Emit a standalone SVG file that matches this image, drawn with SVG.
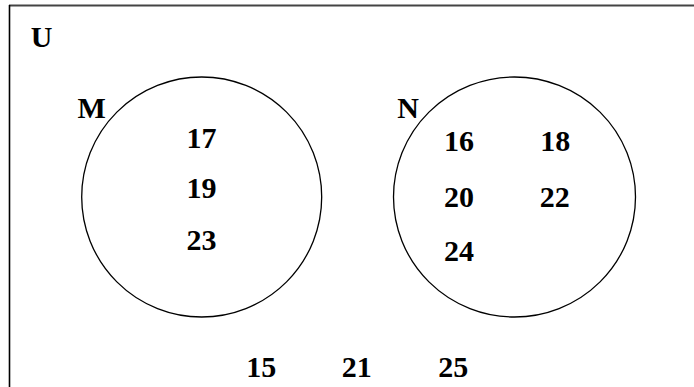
<svg xmlns="http://www.w3.org/2000/svg" width="694" height="387" viewBox="0 0 694 387">
<style>
.t{font-family:"Liberation Serif","Times New Roman",serif;font-weight:bold;font-size:30px;fill:#000;text-anchor:middle}
.c{fill:none;stroke:#000;stroke-width:1.3}
</style>
<rect width="694" height="387" fill="#fff"/>
<g id="frame">
<line x1="9" y1="5.5" x2="694" y2="5.5" stroke="#444" stroke-width="2"/>
<line x1="9.5" y1="5" x2="9.5" y2="387" stroke="#000" stroke-width="1.6"/>
<text class="t" x="41.5" y="46.5">U</text>
</g>
<g id="M">
<ellipse class="c" cx="201.7" cy="197" rx="120" ry="120"/>
<text class="t" x="91.7" y="118.3">M</text>
<text class="t" x="201.5" y="148">17</text>
<text class="t" x="201.5" y="198">19</text>
<text class="t" x="201.5" y="250">23</text>
</g>
<g id="N">
<ellipse class="c" cx="514.5" cy="197" rx="121" ry="120"/>
<text class="t" x="408.2" y="118.3">N</text>
<text class="t" x="459" y="150.5">16</text>
<text class="t" x="555.3" y="150.5">18</text>
<text class="t" x="459" y="206.5">20</text>
<text class="t" x="554.7" y="206.5">22</text>
<text class="t" x="459" y="261">24</text>
</g>
<g id="outside">
<text class="t" x="261.3" y="376.5">15</text>
<text class="t" x="356.7" y="376.5">21</text>
<text class="t" x="453.3" y="376.5">25</text>
</g>
<g id="connectors"/>
</svg>
